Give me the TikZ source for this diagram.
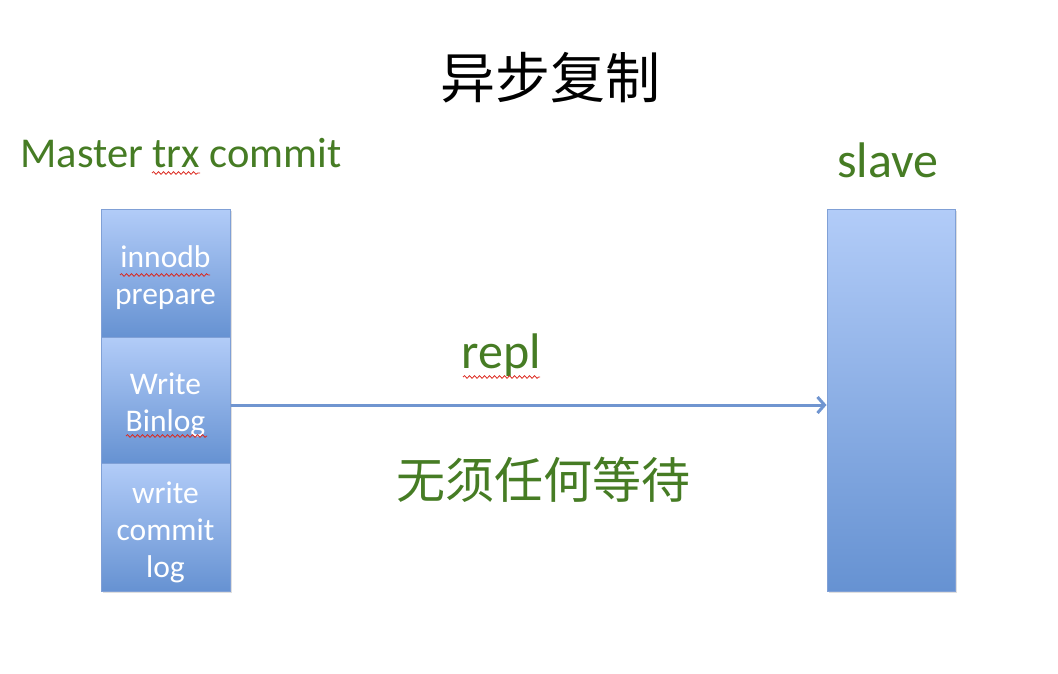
\documentclass[tikz,border=0pt]{standalone}
\usepackage{fontspec}
\setmainfont{Carlito}
\newfontfamily\cjk{Noto Sans CJK SC}
\usetikzlibrary{arrows.meta,decorations.pathmorphing,shadows}
\definecolor{grn}{RGB}{70,124,36}
\definecolor{boxtop}{RGB}{178,204,248}
\definecolor{boxbot}{RGB}{102,146,210}
\definecolor{boxedge}{RGB}{128,160,214}
\definecolor{arrc}{RGB}{112,149,208}
\definecolor{sq}{RGB}{220,40,30}
\tikzset{
  stepbox/.style={rectangle, draw=boxedge, line width=1pt, top color=boxtop, bottom color=boxbot,
    minimum width=129pt, inner sep=0pt,
    drop shadow={opacity=0.25, shadow xshift=1.5pt, shadow yshift=-2pt}},
  boxtext/.style={text=white, align=center, inner sep=0pt, yshift=-5pt,
    font=\fontsize{31.5}{37}\selectfont},
  greentext/.style={text=grn, inner sep=0pt},
  arr/.style={draw=arrc, line width=3pt, -{Straight Barb[length=7pt,width=16pt,line width=3pt]}},
  squig/.style={draw=sq, line width=0.8pt, decorate, decoration={snake, amplitude=1.3pt, segment length=5pt}}
}
\begin{document}
\begin{tikzpicture}[x=1pt,y=-1pt]
\useasboundingbox (0,0) rectangle (1058,674);
\node[inner sep=0pt, font=\cjk\fontsize{55}{64}\selectfont] (title) at (550,78) {异步复制};
\node[greentext, font=\fontsize{42.5}{50}\selectfont] (master) at (181,153) {Master trx commit};
\node[greentext, font=\fontsize{50}{58}\selectfont] (slavelbl) at (888,160) {slave};

\node[stepbox, minimum height=128pt, label={[boxtext]center:{innodb\\prepare}}] (p1) at (165.5,273) {};
\node[stepbox, minimum height=126pt, label={[boxtext]center:{Write\\Binlog}}] (p2) at (165.5,400) {};
\node[stepbox, minimum height=128pt, label={[boxtext]center:{write\\commit\\log}}] (p3) at (165.5,527) {};
\node[stepbox, minimum width=128pt, minimum height=382pt] (slave) at (891,400) {};

\draw[arr] ([yshift=-5pt]p2.east) -- ([yshift=-5pt]slave.west);

\node[greentext, font=\fontsize{50}{58}\selectfont] (repl) at (501,355) {repl};
\node[greentext, font=\cjk\fontsize{49}{58}\selectfont] (wait) at (543,480) {无须任何等待};

\draw[squig] (152,173) -- (200,173);
\draw[squig] (463,377) -- (540,377);
\draw[squig] (120,275) -- (210,275);
\draw[squig] (126,436) -- (207,436);
\end{tikzpicture}
\end{document}
